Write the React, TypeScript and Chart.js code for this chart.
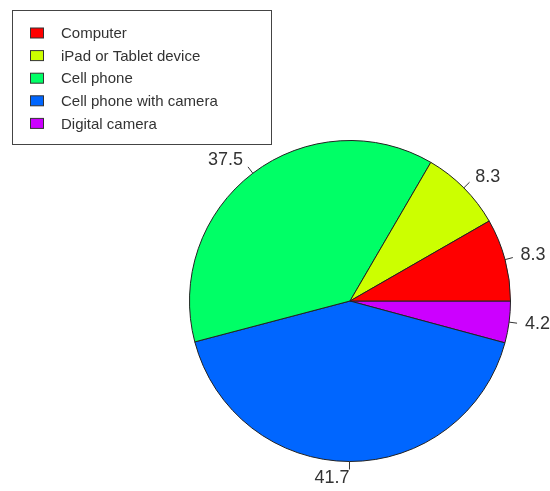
import React, { useEffect, useRef } from "react";
import { Chart, registerables } from "chart.js";

Chart.register(...registerables);

const categories = ["Computer", "iPad or Tablet device", "Cell phone", "Cell phone with camera", "Digital camera"];
const values = [8.3, 8.3, 37.5, 41.7, 4.2];
const colors = ["#FF0000", "#CCFF00", "#00FF66", "#0066FF", "#CC00FF"];

const FONT = "'Liberation Sans', Arial, Helvetica, sans-serif";

const sliceLabels = {
  id: "sliceLabels",
  afterDatasetsDraw(chart: any) {
    const ctx = chart.ctx;
    const meta = chart.getDatasetMeta(0);
    const ds = chart.data.datasets[0];
    ctx.save();
    ctx.font = `18px ${FONT}`;
    ctx.fillStyle = "#333333";
    ctx.strokeStyle = "#333333";
    ctx.lineWidth = 1;
    ctx.textBaseline = "middle";
    meta.data.forEach((arc: any, i: number) => {
      const p = arc.getProps(["x", "y", "startAngle", "endAngle", "outerRadius"], true);
      const mid = (p.startAngle + p.endAngle) / 2;
      const c = Math.cos(mid);
      const s = Math.sin(mid);
      const r = p.outerRadius;
      ctx.beginPath();
      ctx.moveTo(p.x + r * c, p.y + r * s);
      ctx.lineTo(p.x + 1.05 * r * c, p.y + 1.05 * r * s);
      ctx.stroke();
      ctx.textAlign = c < 0 ? "right" : "left";
      ctx.fillText(Number(ds.data[i]).toFixed(1), p.x + 1.1 * r * c, p.y + 1.1 * r * s);
    });
    ctx.restore();
  },
};

const boxLegend = {
  id: "boxLegend",
  afterDraw(chart: any) {
    const ctx = chart.ctx;
    ctx.save();
    ctx.lineWidth = 1;
    ctx.strokeStyle = "#444444";
    ctx.fillStyle = "#ffffff";
    ctx.fillRect(12.5, 10.5, 259, 134);
    ctx.strokeRect(12.5, 10.5, 259, 134);
    ctx.font = `15px ${FONT}`;
    ctx.textBaseline = "middle";
    ctx.textAlign = "left";
    categories.forEach((label, i) => {
      const cy = 33 + i * 22.6;
      ctx.fillStyle = colors[i];
      ctx.fillRect(30.5, cy - 5, 13, 10);
      ctx.strokeStyle = "#333333";
      ctx.strokeRect(30.5, cy - 5, 13, 10);
      ctx.fillStyle = "#333333";
      ctx.fillText(label, 61, cy + 1);
    });
    ctx.restore();
  },
};

export default function App() {
  const ref = useRef<HTMLCanvasElement>(null);
  useEffect(() => {
    document.body.style.margin = "0";
    const order = values.map((_, i) => values.length - 1 - i);
    const chart = new Chart(ref.current as HTMLCanvasElement, {
      type: "pie",
      data: {
        labels: order.map((i) => categories[i]),
        datasets: [
          {
            data: order.map((i) => values[i]),
            backgroundColor: order.map((i) => colors[i]),
            borderColor: "#222222",
            borderWidth: 1,
          },
        ],
      },
      options: {
        responsive: false,
        animation: false,
        rotation: 90,
        layout: { padding: { left: 189, top: 140, right: 39, bottom: 29 } },
        plugins: {
          legend: { display: false },
          tooltip: { enabled: false },
        },
      },
      plugins: [sliceLabels, boxLegend],
    });
    return () => chart.destroy();
  }, []);
  return <canvas ref={ref} width={550} height={491} style={{ display: "block", width: 550, height: 491 }} />;
}
